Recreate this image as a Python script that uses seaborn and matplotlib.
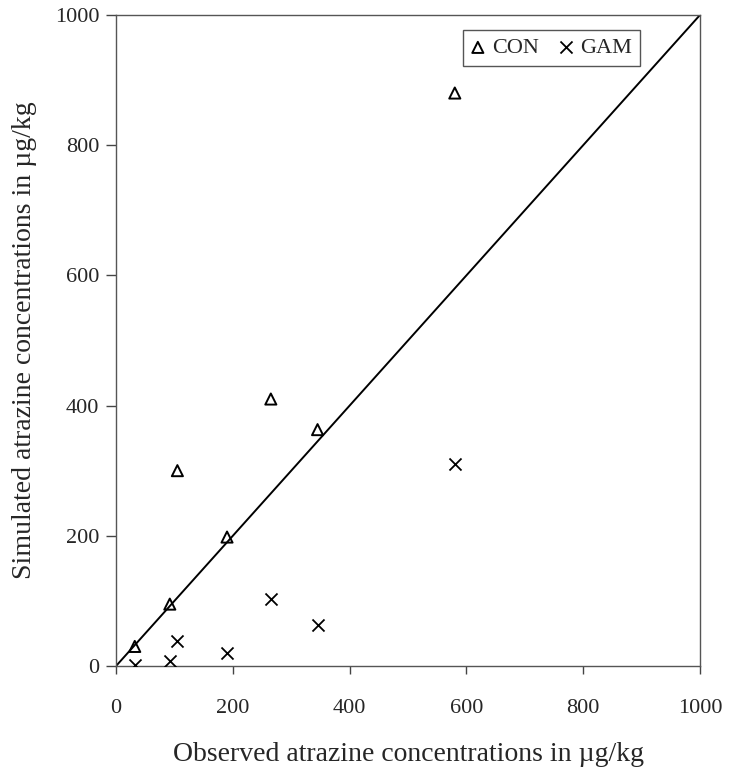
import pandas as pd
import matplotlib
matplotlib.use('Agg')
import matplotlib.pyplot as plt
import seaborn as sns

# observed vs simulated atrazine (ug/kg)
observed = [32, 92, 105, 190, 265, 345, 580]
sim_con = [30, 95, 300, 198, 410, 363, 880]
sim_gam = [2, 7, 39, 20, 103, 63, 310]
one_to_one = [0, 1000]
ticks = [0, 200, 400, 600, 800, 1000]

df = pd.DataFrame({'Observed': observed, 'CON': sim_con, 'GAM': sim_gam})

sns.set_style('ticks')
plt.rcParams['font.family'] = ['Liberation Serif', 'DejaVu Serif']

fig = plt.figure(figsize=(7.3, 7.76), dpi=100)
ax = fig.add_axes([0.159, 0.1418, 0.8, 0.839])

ax.plot(one_to_one, one_to_one, color='black', lw=1.4, zorder=1)

sns.scatterplot(data=df, x='Observed', y='CON', ax=ax, marker='^', s=64,
                facecolor='none', edgecolor='black', linewidth=1.4, label='CON', zorder=3)
sns.scatterplot(data=df, x='Observed', y='GAM', ax=ax, marker='x', s=75,
                color='black', linewidth=1.3, label='GAM', zorder=3)

ax.set_xlim(0, 1000)
ax.set_ylim(0, 1000)
ax.set_xticks(ticks)
ax.set_yticks(ticks)
ax.tick_params(axis='x', labelsize=16, length=6, width=1, pad=18, color='#444444')
ax.tick_params(axis='y', labelsize=16, length=7, width=1, pad=5, color='#444444')
for sp in ax.spines.values():
    sp.set_visible(True)
    sp.set_color('#555555')
    sp.set_linewidth(1)

ax.set_xlabel('Observed atrazine concentrations in µg/kg', fontsize=20, labelpad=17)
ax.set_ylabel('Simulated atrazine concentrations in µg/kg', fontsize=20, labelpad=13)

leg = ax.legend(loc='upper right', bbox_to_anchor=(0.897, 0.977), ncol=2, fontsize=16,
                frameon=True, fancybox=False, framealpha=1, edgecolor='#555555',
                handlelength=0.6, handletextpad=0.35, columnspacing=0.9,
                borderpad=0.35, markerscale=1, borderaxespad=0)
leg.get_frame().set_linewidth(1)

fig.savefig('out.png', dpi=100)
